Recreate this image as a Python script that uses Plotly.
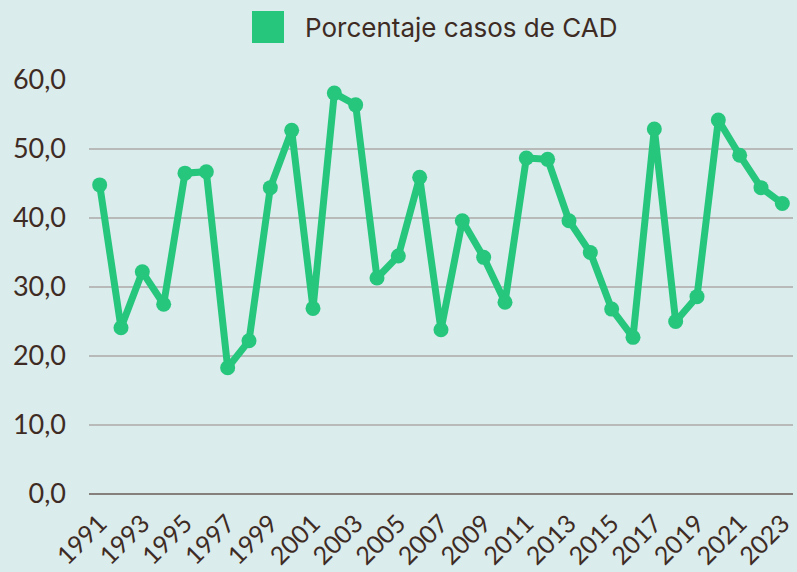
import plotly.graph_objects as go

years = list(range(1991, 2024))
porcentaje_cad = [44.8, 24.1, 32.2, 27.5, 46.5, 46.7, 18.3, 22.2, 44.4, 52.7,
                  26.9, 58.1, 56.4, 31.3, 34.5, 45.9, 23.8, 39.6, 34.3, 27.8,
                  48.7, 48.5, 39.6, 35.0, 26.8, 22.7, 52.9, 25.0, 28.6, 54.2,
                  49.1, 44.4, 42.1]
series_name = "Porcentaje casos de CAD"
y_ticks = [0, 10, 20, 30, 40, 50, 60]

GREEN = "#26C67D"
BG = "#DAECEC"
TXT = "#3E2B24"

x_labels = [str(y) for y in years]

fig = go.Figure()
fig.add_trace(go.Scatter(
    x=x_labels, y=porcentaje_cad, mode="lines+markers", name=series_name,
    line=dict(color=GREEN, width=7),
    marker=dict(color=GREEN, size=15),
    cliponaxis=False, showlegend=False,
))

W, H = 797, 572
ml, mr, mt, mb = 89, 4, 80, 78
pw, ph = W - ml - mr, H - mt - mb

def px_x(x):
    return (x - ml) / pw

def px_y(y):
    return (H - mb - y) / ph

fig.update_layout(
    width=W, height=H,
    margin=dict(l=ml, r=mr, t=mt, b=mb, pad=0),
    paper_bgcolor=BG, plot_bgcolor=BG,
    separators=",.",
    showlegend=False,
    font=dict(family="Lato, sans-serif", color=TXT),
    xaxis=dict(
        type="category", range=[-0.5, len(years) - 0.5],
        tickmode="array", tickvals=x_labels[::2], ticktext=x_labels[::2],
        tickangle=-45, tickfont=dict(size=25, color=TXT, family="Lato", weight=400),
        showgrid=False, zeroline=False, showline=False, ticks="",
        ticklabelstandoff=9, automargin=False,
    ),
    yaxis=dict(
        range=[0, 60], tickvals=y_ticks, tickformat=".1f",
        tickfont=dict(size=27, color=TXT, family="Lato", weight=400),
        showgrid=True, gridcolor="#B8B9B9", gridwidth=2,
        zeroline=True, zerolinecolor="#85807B", zerolinewidth=2,
        ticks="", ticklabelstandoff=22, automargin=False,
    ),
    shapes=[dict(
        type="rect", xref="paper", yref="paper",
        x0=px_x(252), x1=px_x(284), y0=px_y(43), y1=px_y(11),
        fillcolor=GREEN, line=dict(width=0),
    )],
    annotations=[dict(
        xref="paper", yref="paper", x=px_x(303), y=px_y(27),
        xanchor="left", yanchor="middle", showarrow=False,
        text=series_name, font=dict(size=26, color=TXT, family="Inter"),
    )],
)

fig.write_html("out.html", config={"displayModeBar": False},
               post_script="document.body.style.margin='0';")
